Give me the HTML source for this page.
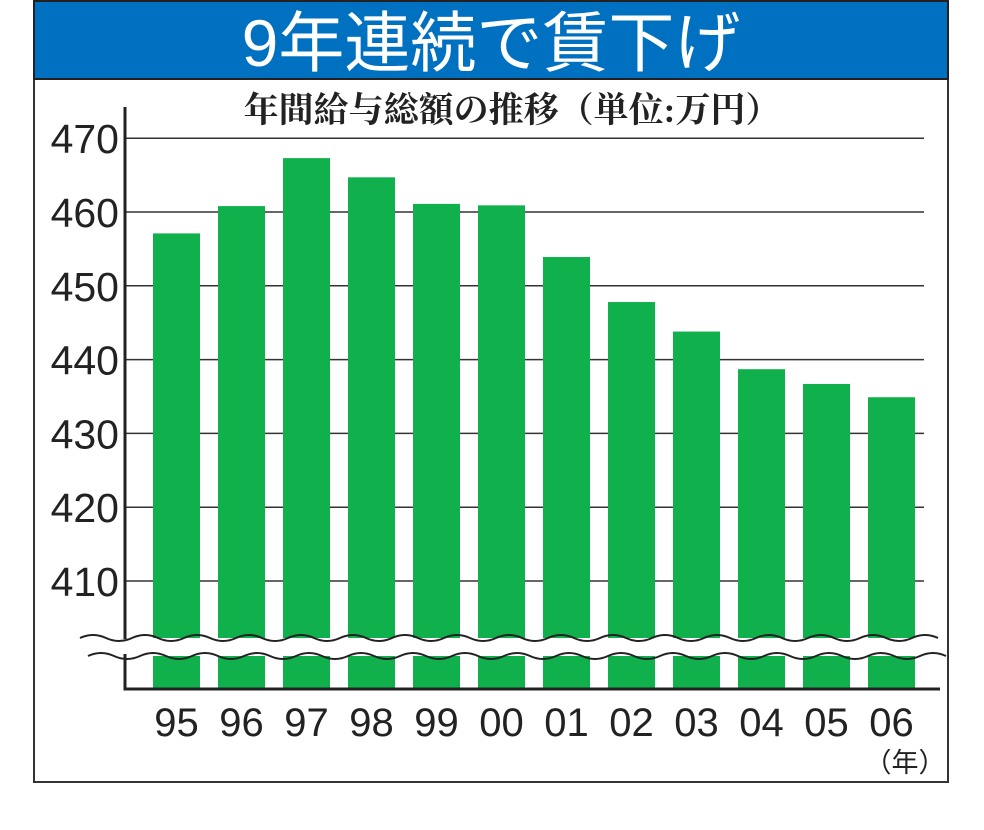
<!DOCTYPE html>
<html><head><meta charset="utf-8"><style>
body{margin:0;background:#fff;width:984px;height:825px;overflow:hidden}
svg text{font-family:"Liberation Sans","Noto Sans CJK JP",sans-serif}
</style></head><body>
<svg width="984" height="825">
<rect x="34" y="1" width="914" height="781" fill="#fff" stroke="#333" stroke-width="2"/>
<rect x="34" y="1" width="914" height="78" fill="#0070c0" stroke="#222" stroke-width="2"/>
<text x="491" y="66" font-size="66" fill="#fff" text-anchor="middle">9年連続で賃下げ</text>
<text x="512" y="122" font-size="35" font-weight="bold" fill="#222" text-anchor="middle" style="font-family:'Liberation Serif','Noto Serif CJK SC',serif">年間給与総額の推移（単位:万円）</text>
<g id="grid"></g><g id="bars"></g><g id="brk"></g><g id="axes"></g>
<text x="905" y="772" font-size="27" fill="#222" text-anchor="middle">（年）</text>
</svg>
<script>
const categories=["95","96","97","98","99","00","01","02","03","04","05","06"];
const values=[457.1,460.8,467.3,464.7,461.1,460.9,453.9,447.8,443.8,438.7,436.7,434.9];
const ticks=[410,420,430,440,450,460,470];
const NS="http://www.w3.org/2000/svg";
function y(v){return 581-(v-410)*7.38;}
function x(i){return 153+i*65;}
function mk(t,a,p){const e=document.createElementNS(NS,t);for(const k in a)e.setAttribute(k,a[k]);p.appendChild(e);return e;}
const grid=document.getElementById('grid');
ticks.forEach(t=>{
 const l=mk('line',{x1:125,x2:924,y1:y(t),y2:y(t),stroke:'#333','stroke-width':1.5},grid);
 
 
 const tx=mk('text',{x:119,y:y(t)+15,'font-size':41,fill:'#222','text-anchor':'end'},grid);
 tx.textContent=t;
 
 
});
const bars=document.getElementById('bars');
values.forEach((v,i)=>{
 const r=mk('rect',{x:x(i),y:y(v),width:47,height:688-y(v),fill:'#10b04c'},bars);
 
 
 const tx=mk('text',{x:x(i)+23.5,y:736,'font-size':40,fill:'#222','text-anchor':'middle'},bars);
 tx.textContent=categories[i];
 
 
});
function wave(x0,x1,yc){let d='M'+x0+' '+yc;for(let xx=x0;xx<x1;xx+=26){d+=' q13 '+(((xx-x0)/26)%2?6:-6)+' 26 0';}return d;}
const brk=document.getElementById('brk');
const band=mk('rect',{x:88,y:638,width:852,height:18,fill:'#fff'},brk);


const w1=mk('path',{d:wave(80,935,638),fill:'none',stroke:'#222','stroke-width':2},brk);


const w2=mk('path',{d:wave(88,942,656),fill:'none',stroke:'#222','stroke-width':2},brk);


const ax=document.getElementById('axes');
const ya=mk('path',{d:'M125 107 V639 M125 654 V689 H940',fill:'none',stroke:'#222','stroke-width':3},ax);


</script>
</body></html>
